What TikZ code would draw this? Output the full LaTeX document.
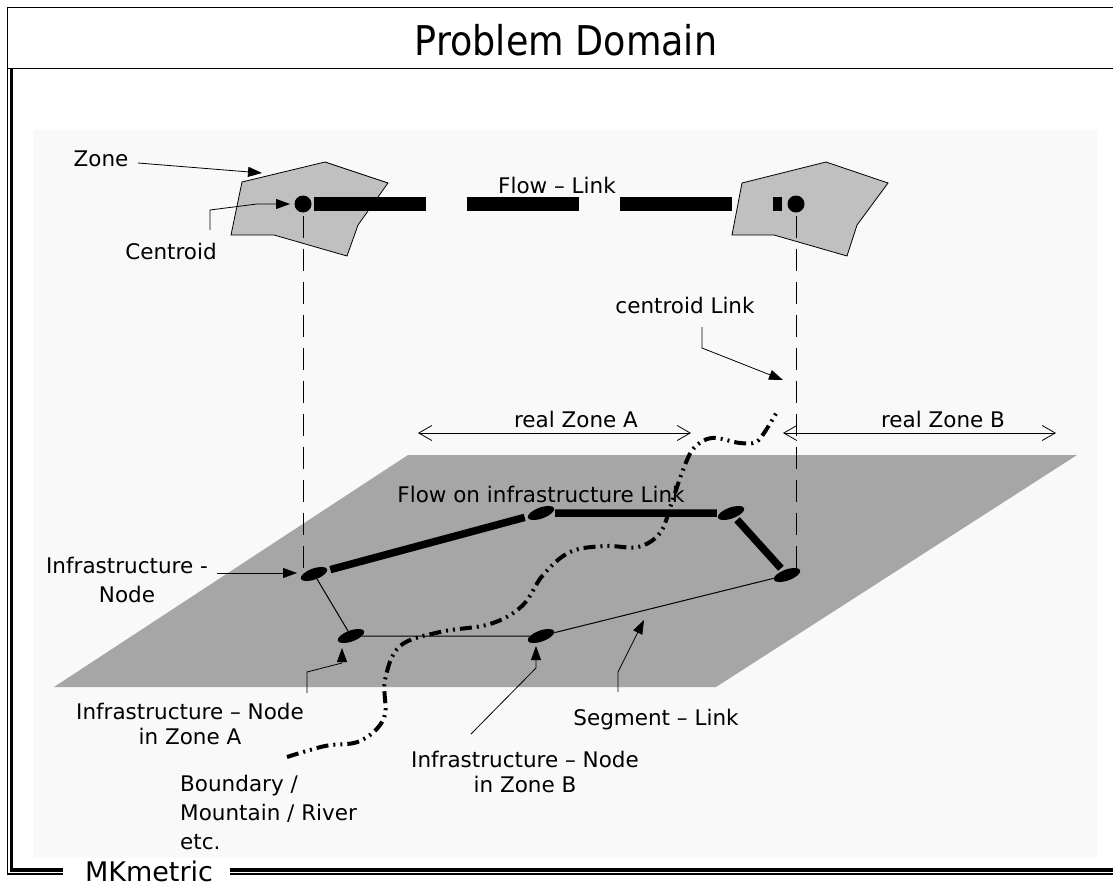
\documentclass[tikz,border=0pt]{standalone}
\usepackage{fontspec}
\setmainfont{DejaVu Sans}
\newfontfamily\titlefont[FakeStretch=0.89]{DejaVu Sans}
\usetikzlibrary{shapes.geometric,arrows.meta}
\definecolor{bgcol}{HTML}{F9F9F9}
\definecolor{planecol}{HTML}{A6A6A6}
\definecolor{zonecol}{HTML}{C0C0C0}
\begin{document}
\begin{tikzpicture}[x=1pt,y=-1pt,
  lbl/.style={font=\fontsize{21.5}{25}\selectfont, inner sep=0pt, anchor=base},
  mlbl/.style={font=\fontsize{21.5}{25}\selectfont, inner sep=0pt, align=center},
  lead/.style={line width=0.8pt, -{Triangle[length=14pt,width=10pt]}},
  dimarrow/.style={line width=0.8pt, {Straight Barb[length=13pt,width=15pt]}-{Straight Barb[length=13pt,width=15pt]}},
  zonepoly/.style={fill=zonecol, draw=black, line width=0.8pt},
  centroid/.style={circle, fill=black, minimum size=17pt, inner sep=0pt},
  infra/.style={ellipse, fill=black, minimum width=28pt, minimum height=11pt, inner sep=0pt, rotate=20},
  vdash/.style={line width=0.8pt, dash pattern=on 22pt off 11pt},
  flowlink/.style={line width=14pt, dash pattern=on 112pt off 41pt, shorten <=2pt, shorten >=5pt},
  thicklink/.style={line width=7.5pt, shorten <=3pt, shorten >=3pt},
  thinlink/.style={line width=1pt},
  boundary/.style={line width=4pt, dash pattern=on 12pt off 5pt on 2pt off 5pt on 2pt off 5pt}
]
\useasboundingbox (0,0) rectangle (1113,886);
\fill[white] (0,0) rectangle (1113,886);
% light background
\fill[bgcol] (33,130) rectangle (1097,858);
% title box and frame
\draw[line width=1pt] (1113,7) -- (7,7) -- (7,68) -- (1113,68);
\draw[line width=1.2pt] (7.5,68) -- (7.5,874) -- (63,874);
\draw[line width=1.2pt] (230,874) -- (1113,874);
\draw[line width=3.5pt] (11.5,68) -- (11.5,870) -- (63,870);
\draw[line width=3.5pt] (230,870) -- (1113,870);
\node[inner sep=0pt, anchor=base, font=\titlefont\fontsize{41}{45}\selectfont] (title) at (566,55) {Problem Domain};
\node[inner sep=0pt, anchor=base, font=\fontsize{27}{31}\selectfont] (mk) at (149,881) {MKmetric};
% plane
\fill[planecol] (408,455) -- (1077,455) -- (716,687) -- (54,687) -- cycle;
% zones
\filldraw[zonepoly] (242,182) -- (325,162) -- (388,183) -- (358,225) -- (347,256) -- (274,235) -- (231,235) -- cycle;
\filldraw[zonepoly] (742,183) -- (826,162) -- (888,183) -- (857,225) -- (847,256) -- (774,235) -- (732,235) -- cycle;
% centroids
\node[centroid] (cA) at (303,204) {};
\node[centroid] (cB) at (796,204) {};
% infrastructure nodes
\node[infra] (N1) at (314,574) {};
\node[infra] (N2) at (541,513) {};
\node[infra] (N3) at (731,513) {};
\node[infra] (N4) at (787,575) {};
\node[infra] (N5) at (351,636) {};
\node[infra] (N6) at (541,636) {};
% flow link
\draw[flowlink] (cA) -- (cB);
% vertical centroid links
\draw[vdash, shorten <=3pt] (cA) -- (cA |- N1);
\draw[vdash, shorten <=3pt] (cB) -- (cB |- N4);
% infrastructure links
\draw[thicklink] (N1) -- (N2);
\draw[thicklink] (N2) -- (N3);
\draw[thicklink] (N3) -- (N4);
\draw[thinlink] (N1) -- (N5);
\draw[thinlink] (N5) -- (N6);
\draw[thinlink] (N6) -- (N4);
% boundary curve
\draw[boundary] plot[smooth, tension=0.6] coordinates {(287,757) (325,746) (360,741) (384,718) (385,680) (400,646) (440,632) (490,624) (522,606) (543,575) (570,552) (605,546) (638,547) (660,533) (671,505) (683,470) (694,448) (712,438) (740,443) (756,442) (766,430) (778,410)};
% dimension arrows
\coordinate (rAl) at (418,433);
\coordinate (rAr) at (691,433);
\coordinate (rBl) at (783,433);
\coordinate (rBr) at (1056,433);
\draw[dimarrow] (rAl) -- (rAr);
\draw[dimarrow] (rBl) -- (rBr);
% labels
\node[lbl] (tZone) at (101,166) {Zone};
\node[lbl] (tCentroid) at (171,259) {Centroid};
\node[lbl] (tFlow) at (557,193) {Flow – Link};
\node[lbl] (tCL) at (685,313) {centroid Link};
\node[lbl] (tRA) at (576,427) {real Zone A};
\node[lbl] (tRB) at (943,427) {real Zone B};
\node[lbl] (tFI) at (541,502) {Flow on infrastructure Link};
\node[mlbl, font=\fontsize{21.5}{29}\selectfont] (tIN) at (127,580) {Infrastructure -\\Node};
\node[mlbl] (tZA) at (190,724) {Infrastructure – Node\\in Zone A};
\node[lbl] (tSeg) at (656,725) {Segment – Link};
\node[mlbl] (tZB) at (525,772) {Infrastructure – Node\\in Zone B};
\node[mlbl, align=left, font=\fontsize{21.5}{29}\selectfont, anchor=west] (tBd) at (180,812) {Boundary /\\Mountain / River\\etc.};
% leaders
\coordinate (zs) at (138,163);
\coordinate (zt) at (262,173);
\draw[lead] (zs) -- (zt);
\coordinate (c1) at (210,230);
\coordinate (c2) at (210,210);
\coordinate (c3) at (257,204);
\coordinate (c4) at (290,204);
\draw[lead] (c1) -- (c2) -- (c3) -- (c4);
\coordinate (l1) at (702,327);
\coordinate (l2) at (702,348);
\coordinate (l3) at (783,380);
\draw[lead] (l1) -- (l2) -- (l3);
\coordinate (i1) at (217,573);
\coordinate (i2) at (297,573);
\draw[lead] (i1) -- (i2);
\coordinate (a1) at (307,693);
\coordinate (a2) at (307,672);
\coordinate (a3) at (342,663);
\coordinate (a4) at (342,648);
\draw[lead] (a1) -- (a2) -- (a3) -- (a4);
\coordinate (b1) at (471,734);
\coordinate (b2) at (536,668);
\coordinate (b3) at (536,646);
\draw[lead] (b1) -- (b2) -- (b3);
\coordinate (s1) at (618,692);
\coordinate (s2) at (618,672);
\coordinate (s3) at (644,620);
\draw[lead] (s1) -- (s2) -- (s3);
\end{tikzpicture}
\end{document}
